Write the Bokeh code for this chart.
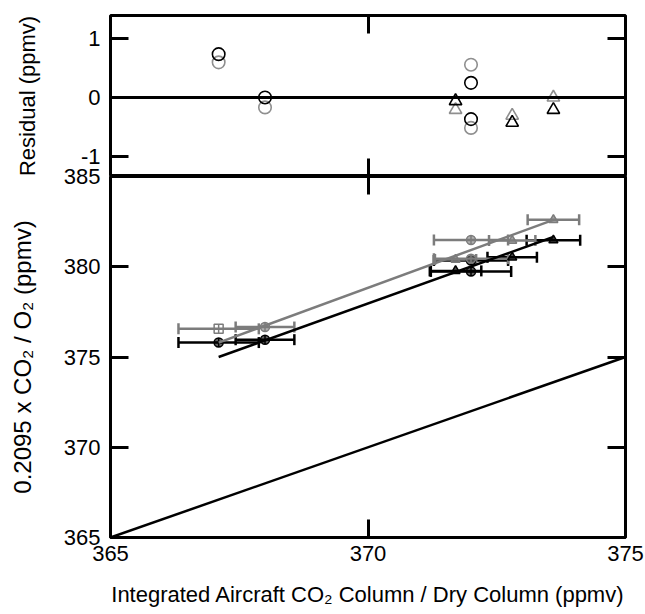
from bokeh.plotting import figure
from bokeh.layouts import column
from bokeh.models import (Range1d, LinearAxis, FixedTicker, Span, Whisker,
                          ColumnDataSource, TeeHead)
from bokeh.embed import file_html
from bokeh.resources import INLINE

FONT = "Liberation Sans"
BLACK = "#000000"
GRAY_TOP = "#8f8f8f"
GRAY = "#7c7c7c"

# --- residuals from each fit (ppmv) ---
circ_x = [367.1, 368.0, 372.0, 372.0]
resid_black_circ = [0.74, 0.0, 0.25, -0.37]
resid_gray_circ = [0.60, -0.17, 0.56, -0.52]
tri_x = [371.7, 372.8, 373.6]
resid_black_tri = [-0.06, -0.43, -0.21]
resid_gray_tri = [-0.21, -0.31, 0.0]

# --- 0.2095 x CO2 / O2 against the integrated aircraft column (ppmv) ---
black_circ_y = [375.80, 375.96, 380.35, 379.74]
gray_circ_y = [376.56, 376.66, 381.48, 380.45]
black_tri_y = [379.77, 380.52, 381.47]
gray_tri_y = [380.40, 381.45, 382.60]
black_circ_xerr = [0.78, 0.57, 0.72, 0.78]
gray_circ_xerr = [0.78, 0.57, 0.72, 0.72]
black_tri_xerr = [0.50, 0.48, 0.52]
gray_tri_xerr = [0.40, 0.45, 0.50]

# fitted lines and the one-to-one line
fit_x = [367.1, 373.6]
black_fit_y = [375.0, 381.65]
gray_fit_y = [375.8, 382.6]
one_to_one = [365, 375]

x_ticks = [365, 370, 375]
resid_ticks = [-1, 0, 1]
resid_labels = {-1: "-1", 0: "0", 1: "1"}
ratio_ticks = [365, 370, 375, 380, 385]

OVERLAP = 14  # the lower panel's canvas slides up under the upper one


def style_axis(ax, ticks, labels=True):
    ax.ticker = FixedTicker(ticks=ticks)
    ax.axis_line_color = None
    ax.major_tick_in = 18
    ax.major_tick_out = 0
    ax.major_tick_line_width = 3
    ax.major_tick_line_color = BLACK
    ax.minor_tick_line_color = None
    ax.major_label_text_font = FONT
    if labels:
        ax.major_label_text_color = BLACK
        ax.major_label_text_font_size = "22px"
        ax.major_label_standoff = 10
    else:
        # tick marks only
        ax.major_label_text_color = None
        ax.major_label_text_font_size = "1px"
        ax.major_label_standoff = 0
    ax.axis_label_text_font = FONT
    ax.axis_label_text_font_size = "22px"
    ax.axis_label_text_font_style = "normal"
    ax.axis_label_text_color = BLACK


def base_figure(y_range, frame_height, top, bottom):
    p = figure(frame_width=515, frame_height=frame_height,
               x_range=Range1d(365, 375), y_range=y_range,
               output_backend="svg", toolbar_location=None,
               min_border_left=110, min_border_right=20,
               min_border_top=top, min_border_bottom=bottom,
               background_fill_color="white", border_fill_color="white")
    p.grid.visible = False
    p.outline_line_color = BLACK
    p.outline_line_width = 3
    return p


# ---------- residual panel ----------
top = base_figure(Range1d(-1.35, 1.4), 161, 15, 0)
style_axis(top.xaxis[0], [370], labels=False)
style_axis(top.yaxis[0], resid_ticks)
top.yaxis[0].major_label_overrides = resid_labels
top.yaxis[0].axis_label = "Residual (ppmv)"
top.yaxis[0].axis_label_standoff = 38
ax = LinearAxis()
style_axis(ax, [370], labels=False)
top.add_layout(ax, "above")
ax = LinearAxis()
style_axis(ax, resid_ticks, labels=False)
top.add_layout(ax, "right")
top.add_layout(Span(location=0, dimension="width", line_color=BLACK, line_width=3))

top.scatter(circ_x, resid_gray_circ, marker="circle", size=12.5, fill_color=None,
            line_color=GRAY_TOP, line_width=1.6)
top.scatter(tri_x, resid_gray_tri, marker="triangle", size=12.5, fill_color=None,
            line_color=GRAY_TOP, line_width=1.6)
top.scatter(circ_x, resid_black_circ, marker="circle", size=12.5, fill_color=None,
            line_color=BLACK, line_width=1.6)
top.scatter(tri_x, resid_black_tri, marker="triangle", size=12.5, fill_color=None,
            line_color=BLACK, line_width=1.6)

# ---------- ratio panel ----------
bot = base_figure(Range1d(365, 385), 361, OVERLAP, 76)
bot.border_fill_color = None
bot.styles = {"margin-top": f"-{OVERLAP}px"}
style_axis(bot.xaxis[0], x_ticks)
bot.xaxis[0].major_label_standoff = 8
bot.xaxis[0].axis_label = "Integrated Aircraft CO\u2082 Column / Dry Column (ppmv)"
bot.xaxis[0].axis_label_standoff = 18
style_axis(bot.yaxis[0], ratio_ticks)
bot.yaxis[0].axis_label = "0.2095 x CO\u2082 / O\u2082 (ppmv)"
bot.yaxis[0].axis_label_text_font_size = "24px"
bot.yaxis[0].axis_label_standoff = 25
ax = LinearAxis()
style_axis(ax, [370], labels=False)
bot.add_layout(ax, "above")
ax = LinearAxis()
style_axis(ax, ratio_ticks, labels=False)
bot.add_layout(ax, "right")

bot.line(one_to_one, one_to_one, line_color=BLACK, line_width=2.5)


def error_bars(p, xs, ys, errs, color):
    src = ColumnDataSource(dict(
        y=ys,
        lo=[x - e for x, e in zip(xs, errs)],
        hi=[x + e for x, e in zip(xs, errs)],
    ))
    w = Whisker(source=src, base="y", lower="lo", upper="hi", dimension="width",
                line_color=color, line_width=2.5,
                lower_head=TeeHead(size=11, line_color=color, line_width=2.5),
                upper_head=TeeHead(size=11, line_color=color, line_width=2.5))
    p.add_layout(w)


error_bars(bot, circ_x, black_circ_y, black_circ_xerr, BLACK)
error_bars(bot, tri_x, black_tri_y, black_tri_xerr, BLACK)
error_bars(bot, circ_x, gray_circ_y, gray_circ_xerr, GRAY)
error_bars(bot, tri_x, gray_tri_y, gray_tri_xerr, GRAY)

bot.scatter(circ_x, black_circ_y, marker="circle_cross", size=9, fill_color=BLACK,
            fill_alpha=0.6, line_color=BLACK, line_width=1.5)
bot.scatter(tri_x, black_tri_y, marker="triangle", size=9, fill_color=BLACK,
            fill_alpha=0.7, line_color=BLACK, line_width=1.5)
bot.scatter(circ_x[:1], gray_circ_y[:1], marker="square_cross", size=9, fill_color=None,
            line_color=GRAY, line_width=1.5)
bot.scatter(circ_x[1:], gray_circ_y[1:], marker="circle_cross", size=9, fill_color=GRAY,
            fill_alpha=0.6, line_color=GRAY, line_width=1.5)
bot.scatter(tri_x, gray_tri_y, marker="triangle", size=9, fill_color=GRAY,
            fill_alpha=0.7, line_color=GRAY, line_width=1.5)

bot.line(fit_x, gray_fit_y, line_color=GRAY, line_width=2.5)
bot.line(fit_x, black_fit_y, line_color=BLACK, line_width=2.5)

layout = column(top, bot, spacing=0)
open("out.html", "w").write(file_html(layout, INLINE))
